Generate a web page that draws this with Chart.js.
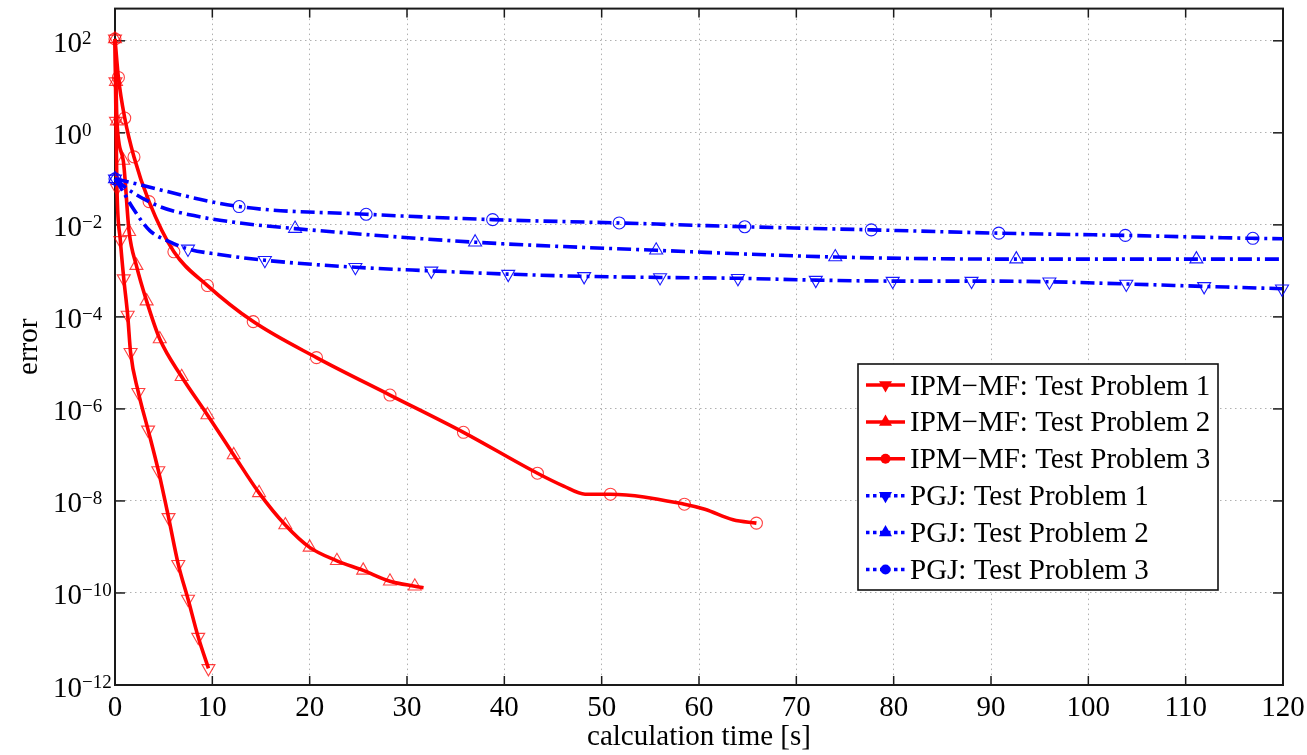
<!DOCTYPE html>
<html>
<head>
<meta charset="utf-8">
<script src="https://cdn.jsdelivr.net/npm/chart.js@4/dist/chart.umd.min.js"></script>
<style>
  html, body { margin: 0; padding: 0; background: #fff; }
  canvas { display: block; }
</style>
</head>
<body>
<canvas id="chart" width="1307" height="755"></canvas>
<script>
// ---- data: calculation time [s] vs. error, one set of arrays per run ----
// *Mark arrays flag which samples carry a marker (1) or only shape the curve (0)

const ipm1Time = [0, 0.05, 0.1, 0.2, 0.55, 0.9, 1.3, 1.6, 2.4, 3.4, 4.45, 5.5, 6.5, 7.5, 8.55, 9.6];
const ipm1Err  = [1.1e2, 1.3e1, 1.8, 6.3e-2, 4.6e-3, 6.8e-4, 1.1e-4, 1.7e-5, 2.3e-6, 3.5e-7, 4.6e-8, 4.4e-9, 4.2e-10, 7.4e-11, 1.1e-11, 2.3e-12];
const ipm1Mark = [1, 1, 1, 1, 1, 1, 1, 1, 1, 1, 1, 1, 1, 1, 1, 1];

const ipm2Time = [0, 0.1, 0.2, 0.85, 1.45, 2.2, 3.25, 4.6, 6.85, 9.5, 12.2, 14.8, 17.5, 20.0, 22.8, 25.5, 28.25, 30.8, 31.7];
const ipm2Err  = [1.1e2, 1.3e1, 1.8, 2.5e-1, 7.1e-3, 1.3e-3, 2.2e-4, 3.3e-5, 5.0e-6, 7.4e-7, 1.0e-7, 1.5e-8, 3.0e-9, 9.8e-10, 5.0e-10, 3.1e-10, 1.8e-10, 1.4e-10, 1.3e-10];
const ipm2Mark = [1, 1, 1, 1, 1, 1, 1, 1, 1, 1, 1, 1, 1, 1, 1, 1, 1, 1, 0];

const ipm3Time = [0, 0.35, 1.0, 1.95, 3.5, 6.05, 9.5, 14.2, 20.7, 28.25, 35.8, 43.4, 46.1, 48.3, 50.9, 58.5, 60.6, 63.5, 65.9];
const ipm3Err  = [1.1e2, 1.6e1, 2.1, 3.0e-1, 3.2e-2, 2.6e-3, 4.8e-4, 7.9e-5, 1.3e-5, 2.0e-6, 3.1e-7, 4.0e-8, 2.1e-8, 1.4e-8, 1.4e-8, 8.5e-9, 6.6e-9, 3.9e-9, 3.3e-9];
const ipm3Mark = [1, 1, 1, 1, 1, 1, 1, 1, 1, 1, 1, 1, 0, 0, 1, 1, 0, 0, 1];

const pgj1Time = [0, 0.7, 1.9, 3.6, 5.3, 7.5, 10.5, 15.4, 24.7, 32.5, 40.4, 48.2, 56.0, 64.0, 72.0, 79.9, 88.0, 96.0, 103.9, 111.9, 119.9];
const pgj1Err  = [1.0e-1, 5.9e-2, 2.2e-2, 7.4e-3, 4.6e-3, 3.0e-3, 2.3e-3, 1.7e-3, 1.2e-3, 1.0e-3, 8.5e-4, 7.6e-4, 7.2e-4, 6.9e-4, 6.3e-4, 6.0e-4, 6.0e-4, 5.8e-4, 5.2e-4, 4.6e-4, 4.1e-4];
const pgj1Mark = [1, 0, 0, 0, 0, 1, 0, 1, 1, 1, 1, 1, 1, 1, 1, 1, 1, 1, 1, 1, 1];

const pgj2Time = [0, 1.5, 4.6, 8.7, 12.8, 18.5, 37.0, 55.6, 74.0, 92.6, 111.1, 120];
const pgj2Err  = [1.0e-1, 5.6e-2, 2.5e-2, 1.5e-2, 1.1e-2, 8.3e-3, 4.2e-3, 2.8e-3, 2.0e-3, 1.8e-3, 1.8e-3, 1.8e-3];
const pgj2Mark = [1, 0, 0, 0, 0, 1, 1, 1, 1, 1, 1, 0];

const pgj3Time = [0, 12.75, 25.8, 38.8, 51.8, 64.7, 77.7, 90.8, 103.8, 116.9, 120];
const pgj3Err  = [1.0e-1, 2.5e-2, 1.7e-2, 1.3e-2, 1.1e-2, 9.1e-3, 7.8e-3, 6.6e-3, 5.9e-3, 5.1e-3, 5.0e-3];
const pgj3Mark = [1, 1, 1, 1, 1, 1, 1, 1, 1, 1, 0];

const seriesLabels = [
  'IPM\u2212MF: Test Problem 1',
  'IPM\u2212MF: Test Problem 2',
  'IPM\u2212MF: Test Problem 3',
  'PGJ: Test Problem 1',
  'PGJ: Test Problem 2',
  'PGJ: Test Problem 3'
];

const xTicks = [0, 10, 20, 30, 40, 50, 60, 70, 80, 90, 100, 110, 120];
const yTickPowers = [2, 0, -2, -4, -6, -8, -10, -12];
const xTitle = 'calculation time [s]';
const yTitle = 'error';

// ---- styling ----
const SERIF = '"Liberation Serif", "Times New Roman", Times, serif';
const RED = '#ff0000';
const BLUE = '#0000ff';
const RED_MARK = 'rgba(255,0,0,0.75)';
const BLUE_MARK = 'rgba(0,0,255,0.9)';
const DASH_DOT = [14, 5, 3, 5];

const series = [
  { time: ipm1Time, err: ipm1Err, mark: ipm1Mark, color: RED,  markColor: RED_MARK,  dash: [],       marker: 'triangle', rot: 180, radius: 7.5, order: 2 },
  { time: ipm2Time, err: ipm2Err, mark: ipm2Mark, color: RED,  markColor: RED_MARK,  dash: [],       marker: 'triangle', rot: 0,   radius: 7.5, order: 2 },
  { time: ipm3Time, err: ipm3Err, mark: ipm3Mark, color: RED,  markColor: RED_MARK,  dash: [],       marker: 'circle',   rot: 0,   radius: 6,   order: 2 },
  { time: pgj1Time, err: pgj1Err, mark: pgj1Mark, color: BLUE, markColor: BLUE_MARK, dash: DASH_DOT, marker: 'triangle', rot: 180, radius: 7.5, order: 1 },
  { time: pgj2Time, err: pgj2Err, mark: pgj2Mark, color: BLUE, markColor: BLUE_MARK, dash: DASH_DOT, marker: 'triangle', rot: 0,   radius: 7.5, order: 1 },
  { time: pgj3Time, err: pgj3Err, mark: pgj3Mark, color: BLUE, markColor: BLUE_MARK, dash: DASH_DOT, marker: 'circle',   rot: 0,   radius: 6,   order: 1 }
];
series.forEach((s, i) => { s.label = seriesLabels[i]; });

function line(ctx, x1, y1, x2, y2) {
  ctx.beginPath(); ctx.moveTo(x1, y1); ctx.lineTo(x2, y2); ctx.stroke();
}

function drawMarker(ctx, style, rot, x, y, r) {
  ctx.beginPath();
  if (style === 'circle') {
    ctx.arc(x, y, r, 0, Math.PI * 2);
  } else {
    const a0 = rot * Math.PI / 180;
    for (let k = 0; k < 3; k++) {
      const a = a0 + k * 2 * Math.PI / 3;
      const px = x + Math.sin(a) * r, py = y - Math.cos(a) * r;
      if (k === 0) ctx.moveTo(px, py); else ctx.lineTo(px, py);
    }
    ctx.closePath();
  }
  ctx.fill();
}

// axes box, inward tick marks, tick labels, titles and legend
const axesDecor = {
  id: 'axesDecor',
  beforeDraw(chart) {
    const ctx = chart.ctx;
    ctx.save();
    ctx.fillStyle = '#fff';
    ctx.fillRect(0, 0, chart.width, chart.height);
    ctx.restore();
  },
  beforeDatasetsDraw(chart) {
    const { ctx, chartArea: a, scales: { x, y } } = chart;
    ctx.save();
    ctx.strokeStyle = '#1a1a1a';
    ctx.lineWidth = 1.5;
    x.ticks.forEach(t => {
      const px = x.getPixelForValue(t.value);
      line(ctx, px, a.bottom, px, a.bottom - 9);
      line(ctx, px, a.top, px, a.top + 9);
    });
    y.ticks.forEach(t => {
      const py = y.getPixelForValue(t.value);
      line(ctx, a.left, py, a.left + 10, py);
      line(ctx, a.right, py, a.right - 10, py);
    });
    ctx.lineWidth = 2;
    ctx.strokeRect(a.left, a.top, a.right - a.left, a.bottom - a.top);

    // tick labels
    ctx.fillStyle = '#000';
    ctx.textBaseline = 'alphabetic';
    ctx.font = '29px ' + SERIF;
    ctx.textAlign = 'center';
    x.ticks.forEach(t => {
      ctx.fillText(String(t.value), x.getPixelForValue(t.value), a.bottom + 31);
    });
    ctx.textAlign = 'left';
    y.ticks.forEach(t => {
      const py = y.getPixelForValue(t.value);
      const p = Math.round(Math.log10(t.value));
      ctx.font = '29px ' + SERIF;
      ctx.fillText('10', 53, py + 11.5);
      const w = ctx.measureText('10').width;
      ctx.font = '19px ' + SERIF;
      ctx.fillText(p < 0 ? '\u2212' + Math.abs(p) : String(p), 53 + w, py + 3);
    });

    // axis titles
    ctx.font = '29px ' + SERIF;
    ctx.textAlign = 'center';
    ctx.fillText(xTitle, (a.left + a.right) / 2, 745);
    ctx.save();
    ctx.translate(37, (a.top + a.bottom) / 2);
    ctx.rotate(-Math.PI / 2);
    ctx.fillText(yTitle, 0, 0);
    ctx.restore();
    ctx.restore();
  },
  afterDatasetsDraw(chart) {
    const ctx = chart.ctx;
    const box = { l: 858, t: 364, r: 1218, b: 590 };
    ctx.save();
    ctx.fillStyle = '#fff';
    ctx.fillRect(box.l, box.t, box.r - box.l, box.b - box.t);
    ctx.strokeStyle = '#111';
    ctx.lineWidth = 1.6;
    ctx.strokeRect(box.l, box.t, box.r - box.l, box.b - box.t);
    series.forEach((s, i) => {
      const cy = 385 + i * 36.9;
      ctx.strokeStyle = s.color;
      ctx.fillStyle = s.color;
      ctx.lineWidth = 3.5;
      if (s.dash.length) {
        ctx.setLineDash([3.5, 3.5]);
        line(ctx, 866, cy, 908, cy);
        ctx.setLineDash([]);
      } else {
        line(ctx, 866, cy, 905, cy);
      }
      drawMarker(ctx, s.marker, s.rot, 885.5, cy, s.marker === 'circle' ? 5 : 7.5);
      ctx.fillStyle = '#000';
      ctx.font = '29px ' + SERIF;
      ctx.textAlign = 'left';
      ctx.textBaseline = 'alphabetic';
      ctx.fillText(s.label, 910, cy + 9.5);
    });
    ctx.restore();
  }
};

new Chart(document.getElementById('chart'), {
  type: 'scatter',
  data: {
    datasets: series.map(s => ({
      label: s.label,
      data: s.time.map((t, i) => ({ x: t, y: s.err[i] })),
      showLine: true,
      borderColor: s.color,
      borderWidth: 3.6,
      borderDash: s.dash,
      borderCapStyle: 'butt',
      cubicInterpolationMode: 'monotone',
      pointStyle: s.marker,
      pointRotation: s.rot,
      pointRadius: c => (s.mark[c.dataIndex] ? s.radius : 0),
      pointBorderColor: s.markColor,
      pointBackgroundColor: 'rgba(0,0,0,0)',
      pointBorderWidth: 1.1,
      clip: false,
      order: s.order
    }))
  },
  options: {
    responsive: false,
    animation: false,
    devicePixelRatio: 1,
    events: [],
    layout: { padding: { left: 115, right: 24, top: 5, bottom: 70 } },
    plugins: { legend: { display: false }, tooltip: { enabled: false } },
    scales: {
      x: {
        type: 'linear',
        min: 0,
        max: 120,
        bounds: 'data',
        afterBuildTicks: sc => { sc.ticks = xTicks.map(v => ({ value: v })); },
        afterFit: sc => { sc.height = 0; },
        ticks: { display: false },
        grid: { color: '#b0b0b0', lineWidth: 1, drawTicks: false },
        border: { display: false, dash: [1.5, 3.5] }
      },
      y: {
        type: 'logarithmic',
        min: 1e-12,
        max: Math.pow(10, 2.7),
        bounds: 'data',
        afterBuildTicks: sc => { sc.ticks = yTickPowers.map(p => ({ value: Math.pow(10, p) })); },
        afterFit: sc => { sc.width = 0; },
        ticks: { display: false },
        grid: { color: '#b0b0b0', lineWidth: 1, drawTicks: false },
        border: { display: false, dash: [1.5, 3.5] }
      }
    }
  },
  plugins: [axesDecor]
});
</script>
</body>
</html>
